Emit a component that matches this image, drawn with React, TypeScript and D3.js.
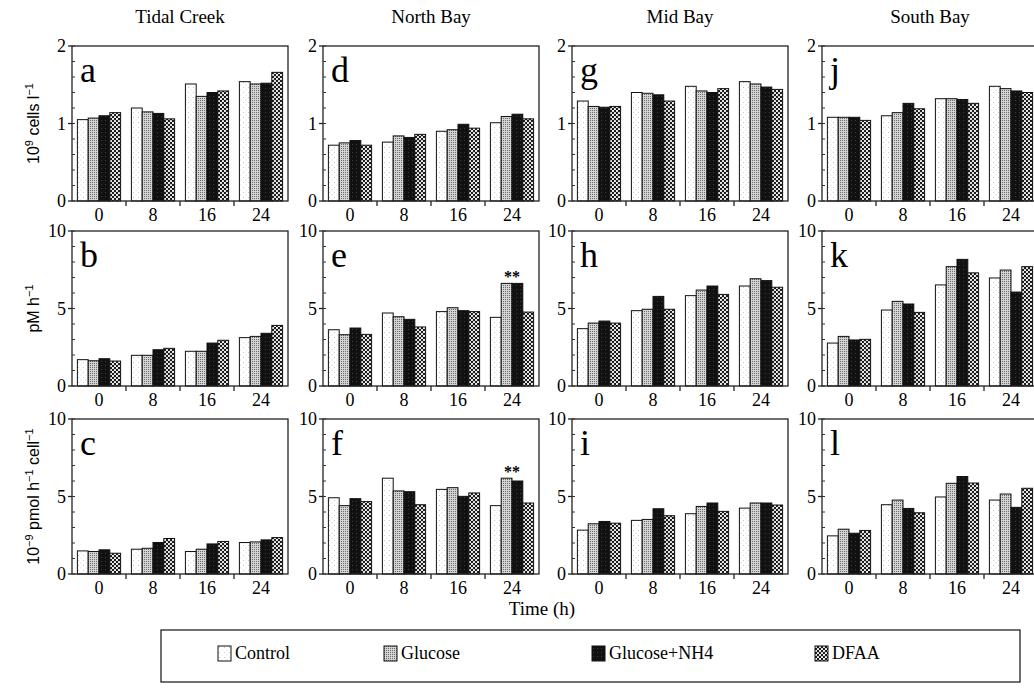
import * as d3 from 'd3';

const sites = ['Tidal Creek', 'North Bay', 'Mid Bay', 'South Bay'];
const times = ['0', '8', '16', '24'];
const treatments = ['Control', 'Glucose', 'Glucose+NH4', 'DFAA'];
const letters = [
  ['a', 'b', 'c'],
  ['d', 'e', 'f'],
  ['g', 'h', 'i'],
  ['j', 'k', 'l'],
];

// row 1: bacterial abundance (10^9 cells l-1), one row per time, values per treatment
const cellsTidalCreek = [[1.05, 1.07, 1.1, 1.14], [1.2, 1.15, 1.13, 1.06], [1.51, 1.35, 1.4, 1.42], [1.54, 1.51, 1.52, 1.66]];
const cellsNorthBay = [[0.72, 0.75, 0.78, 0.72], [0.76, 0.84, 0.82, 0.86], [0.9, 0.92, 0.99, 0.94], [1.01, 1.09, 1.12, 1.06]];
const cellsMidBay = [[1.29, 1.22, 1.21, 1.22], [1.4, 1.39, 1.37, 1.29], [1.48, 1.42, 1.4, 1.45], [1.54, 1.51, 1.47, 1.44]];
const cellsSouthBay = [[1.08, 1.08, 1.08, 1.04], [1.1, 1.14, 1.26, 1.19], [1.32, 1.32, 1.31, 1.26], [1.48, 1.45, 1.42, 1.4]];

// row 2: production (pM h-1)
const prodTidalCreek = [[1.7, 1.63, 1.76, 1.61], [1.98, 1.98, 2.34, 2.43], [2.24, 2.24, 2.77, 2.95], [3.12, 3.2, 3.4, 3.91]];
const prodNorthBay = [[3.63, 3.31, 3.74, 3.33], [4.71, 4.47, 4.3, 3.81], [4.8, 5.05, 4.86, 4.8], [4.43, 6.62, 6.62, 4.77]];
const prodMidBay = [[3.7, 4.06, 4.19, 4.06], [4.86, 4.95, 5.78, 4.95], [5.83, 6.19, 6.45, 5.91], [6.45, 6.92, 6.8, 6.37]];
const prodSouthBay = [[2.77, 3.2, 2.97, 3.01], [4.9, 5.46, 5.29, 4.75], [6.52, 7.7, 8.17, 7.3], [6.97, 7.48, 6.06, 7.7]];

// row 3: cell-specific production (10^-9 pmol h-1 cell-1)
const specTidalCreek = [[1.49, 1.45, 1.56, 1.34], [1.6, 1.66, 2.03, 2.29], [1.45, 1.6, 1.94, 2.1], [2.03, 2.07, 2.2, 2.35]];
const specNorthBay = [[4.92, 4.41, 4.86, 4.67], [6.18, 5.36, 5.31, 4.47], [5.46, 5.57, 5.01, 5.23], [4.41, 6.18, 6.0, 4.58]];
const specMidBay = [[2.83, 3.24, 3.39, 3.28], [3.46, 3.52, 4.21, 3.76], [3.89, 4.36, 4.58, 4.04], [4.25, 4.58, 4.58, 4.45]];
const specSouthBay = [[2.46, 2.89, 2.63, 2.81], [4.47, 4.77, 4.23, 3.95], [4.97, 5.85, 6.29, 5.87], [4.77, 5.16, 4.3, 5.53]];

const rowMax = [2, 10, 10];
const rowTicks = [[0, 1, 2], [0, 5, 10], [0, 5, 10]];
const rowMinor = [0.2, 1, 1];

const grid = [
  [cellsTidalCreek, prodTidalCreek, specTidalCreek],
  [cellsNorthBay, prodNorthBay, specNorthBay],
  [cellsMidBay, prodMidBay, specMidBay],
  [cellsSouthBay, prodSouthBay, specSouthBay],
];

const W = 1034;
const H = 693;
const colX = [72, 323, 572, 822];
const rowY = [46, 231, 419];
const pw = 216;
const ph = 155;
const serif = '"Liberation Serif", "DejaVu Serif", serif';
const sans = '"Liberation Sans", Arial, sans-serif';
const fills = ['url(#pCtrl)', 'url(#pGlu)', 'url(#pGluN)', 'url(#pDfaa)'];

interface PanelProps {
  x0: number;
  y0: number;
  data: number[][];
  max: number;
  ticks: number[];
  minor: number;
  letter: string;
  stars: boolean;
}

const Panel = ({ x0, y0, data, max, ticks, minor, letter, stars }: PanelProps) => {
  const x = d3.scaleBand().domain(times).range([0, pw]).paddingInner(0.2).paddingOuter(0.1);
  const inner = d3.scaleBand().domain(treatments).range([0, x.bandwidth()]);
  const y = d3.scaleLinear().domain([0, max]).range([ph, 0]);
  const minorTicks = d3.range(0, max + 1e-6, minor);
  const gap = x.step() * 0.1;

  return (
    <g transform={`translate(${x0},${y0})`}>
      {data.map((vals, i) =>
        vals.map((v, j) => (
          <rect
            key={`${i}-${j}`}
            x={(x(times[i]) ?? 0) + (inner(treatments[j]) ?? 0)}
            y={y(v)}
            width={inner.bandwidth()}
            height={ph - y(v)}
            fill={fills[j]}
            stroke='#111'
            strokeWidth={1}
          />
        ))
      )}
      {stars && (
        <text
          x={(x(times[3]) ?? 0) + (inner(treatments[2]) ?? 0)}
          y={y(Math.max(data[3][1], data[3][2])) - 1}
          textAnchor='middle'
          fontFamily={serif}
          fontSize={16}
          fontWeight='bold'
        >
          **
        </text>
      )}
      <rect x={0} y={0} width={pw} height={ph} fill='none' stroke='#222' strokeWidth={1.3} />
      {minorTicks.map((t) => (
        <line key={`m${t}`} x1={0} x2={3} y1={y(t)} y2={y(t)} stroke='#333' strokeWidth={1} />
      ))}
      {ticks.map((t) => (
        <g key={`t${t}`}>
          <line x1={-4} x2={0} y1={y(t)} y2={y(t)} stroke='#222' strokeWidth={1.3} />
          <text x={-6} y={y(t)} dy='0.35em' textAnchor='end' fontFamily={serif} fontSize={18}>
            {t}
          </text>
        </g>
      ))}
      {times.map((t, i) => (
        <g key={`x${t}`}>
          {i > 0 && (
            <line
              x1={(x(t) ?? 0) - gap}
              x2={(x(t) ?? 0) - gap}
              y1={ph}
              y2={ph + 5}
              stroke='#222'
              strokeWidth={1.3}
            />
          )}
          <text
            x={(x(t) ?? 0) + x.bandwidth() / 2}
            y={ph + 20}
            textAnchor='middle'
            fontFamily={serif}
            fontSize={18}
          >
            {t}
          </text>
        </g>
      ))}
      <text x={8} y={36} fontFamily={serif} fontSize={36}>
        {letter}
      </text>
    </g>
  );
};

const YLabel = ({ cy, children }: { cy: number; children: React.ReactNode }) => (
  <text
    transform={`translate(39,${cy}) rotate(-90)`}
    textAnchor='middle'
    fontFamily={sans}
    fontSize={16}
  >
    {children}
  </text>
);

const legendX = [218, 384, 592, 815];

const App = () => {
  return (
    <svg
      width={W}
      height={H}
      style={{ position: 'absolute', left: 0, top: 0, background: '#fff' }}
    >
      <defs>
        <pattern id='pCtrl' width={5} height={5} patternUnits='userSpaceOnUse'>
          <rect width={5} height={5} fill='#fff' />
          <rect x={1} y={1} width={1} height={1} fill='#c8c8c8' />
          <rect x={3.5} y={3.5} width={1} height={1} fill='#d8d8d8' />
        </pattern>
        <pattern id='pGlu' width={2} height={2} patternUnits='userSpaceOnUse'>
          <rect width={2} height={2} fill='#d4d4d4' />
          <rect x={0} y={0} width={1} height={1} fill='#6a6a6a' />
        </pattern>
        <pattern id='pGluN' width={4} height={4} patternUnits='userSpaceOnUse'>
          <rect width={4} height={4} fill='#111' />
          <rect x={1} y={2} width={1} height={1} fill='#3a3a3a' />
        </pattern>
        <pattern id='pDfaa' width={4} height={4} patternUnits='userSpaceOnUse'>
          <rect width={4} height={4} fill='#1a1a1a' />
          <circle cx={1} cy={1} r={1.1} fill='#fff' />
          <circle cx={3} cy={3} r={1.1} fill='#fff' />
        </pattern>
      </defs>

      {sites.map((s, c) => (
        <text
          key={s}
          x={colX[c] + pw / 2}
          y={23}
          textAnchor='middle'
          fontFamily={serif}
          fontSize={19}
        >
          {s}
        </text>
      ))}

      {grid.map((col, c) =>
        col.map((data, r) => (
          <Panel
            key={`${c}-${r}`}
            x0={colX[c]}
            y0={rowY[r]}
            data={data}
            max={rowMax[r]}
            ticks={rowTicks[r]}
            minor={rowMinor[r]}
            letter={letters[c][r]}
            stars={c === 1 && r > 0}
          />
        ))
      )}

      <YLabel cy={rowY[0] + ph / 2}>
        10<tspan dy={-6} fontSize={11}>9</tspan>
        <tspan dy={6}> cells l</tspan>
        <tspan dy={-6} fontSize={11}>−1</tspan>
      </YLabel>
      <YLabel cy={rowY[1] + ph / 2}>
        pM h<tspan dy={-6} fontSize={11}>−1</tspan>
      </YLabel>
      <YLabel cy={rowY[2] + ph / 2}>
        10<tspan dy={-6} fontSize={11}>−9</tspan>
        <tspan dy={6}> pmol h</tspan>
        <tspan dy={-6} fontSize={11}>−1</tspan>
        <tspan dy={6}> cell</tspan>
        <tspan dy={-6} fontSize={11}>−1</tspan>
      </YLabel>

      <text x={542} y={615} textAnchor='middle' fontFamily={serif} fontSize={19}>
        Time (h)
      </text>

      <rect x={161} y={630} width={859} height={52} fill='none' stroke='#111' strokeWidth={1.2} />
      {treatments.map((t, i) => (
        <g key={t} transform={`translate(${legendX[i]},646)`}>
          <rect width={13} height={15} fill={fills[i]} stroke='#111' strokeWidth={1} />
          <text x={17} y={12.5} fontFamily={serif} fontSize={18}>
            {t}
          </text>
        </g>
      ))}
    </svg>
  );
};

export default App;
